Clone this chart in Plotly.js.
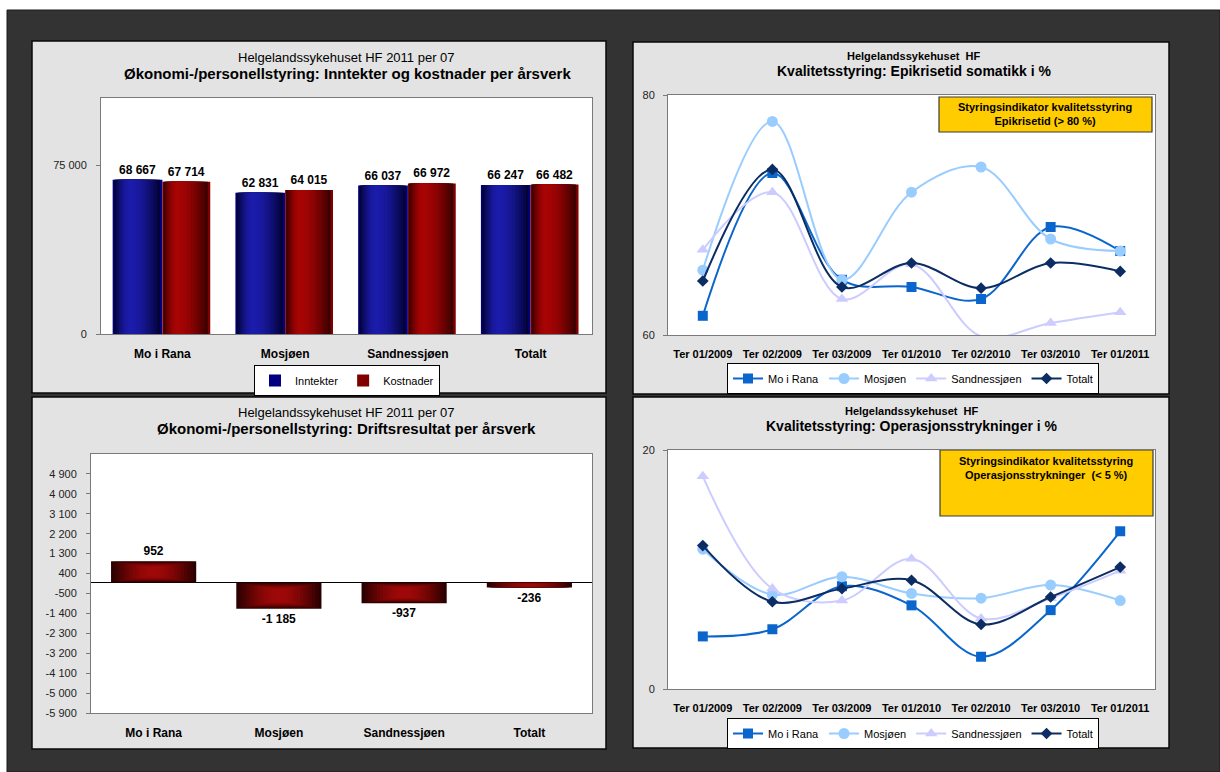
<!DOCTYPE html>
<html><head><meta charset="utf-8">
<script src="https://cdn.plot.ly/plotly-3.0.1.min.js"></script>
<style>html,body{margin:0;padding:0;background:#fff;}#chart{width:1220px;height:772px;}</style>
</head><body><div id="chart"></div>
<script>
// ---------- data ----------
const units = ['Mo i Rana', 'Mosjøen', 'Sandnessjøen', 'Totalt'];
const inntekter = [68667, 62831, 66037, 66247];
const kostnader = [67714, 64015, 66972, 66482];
const driftsresultat = [952, -1185, -937, -236];

const periods = ['Ter 01/2009', 'Ter 02/2009', 'Ter 03/2009', 'Ter 01/2010', 'Ter 02/2010', 'Ter 03/2010', 'Ter 01/2011'];
const epiMoiRana = [61.6, 73.5, 64.6, 64.0, 63.0, 69.0, 67.0];
const epiMosjoen = [65.4, 77.8, 64.6, 71.9, 74.0, 68.0, 67.0];
const epiSandnessjoen = [67.1, 71.9, 63.0, 65.9, 59.9, 61.0, 61.9];
const epiTotalt = [64.5, 73.8, 64.0, 66.0, 63.9, 66.0, 65.3];

const opMoiRana = [4.4, 5.0, 8.6, 7.0, 2.7, 6.6, 13.2];
const opMosjoen = [11.7, 7.9, 9.4, 8.0, 7.6, 8.7, 7.4];
const opSandnessjoen = [17.8, 8.4, 7.4, 10.9, 5.9, 7.6, 9.9];
const opTotalt = [12.0, 7.3, 8.4, 9.1, 5.4, 7.7, 10.2];

const incomeTicks = [0, 75000];
const resultTicks = [-5900, -5000, -4100, -3200, -2300, -1400, -500, 400, 1300, 2200, 3100, 4000, 4900];
const epiTicks = [60, 80];
const opTicks = [0, 20];

// ---------- helpers ----------
const W = 1220, H = 772;
const FONT = 'Liberation Sans, Arial, sans-serif';
const px = v => v / W;
const py = v => 1 - v / H;
function fmt(v) {
  const s = Math.abs(Math.round(v)).toString().replace(/\B(?=(\d{3})+(?!\d))/g, ' ');
  return (v < 0 ? '-' : '') + s;
}
function hex2rgb(h) { h = h.replace('#', ''); return [0, 2, 4].map(i => parseInt(h.substr(i, 2), 16)); }
function mix(a, b, t) {
  const A = hex2rgb(a), B = hex2rgb(b);
  return 'rgb(' + A.map((c, i) => Math.round(c + (B[i] - c) * t)).join(',') + ')';
}
// shaded bars built from layered bar traces
function shadedBars(opts) {
  const out = [];
  const n = opts.layers;
  for (let j = 0; j < n; j++) {
    const f = j / n;
    const t = Math.sin(f * Math.PI / 2);
    const vs = opts.vshrink || 0;
    const tr = {
      type: 'bar', xaxis: opts.xaxis, yaxis: opts.yaxis,
      x: opts.cats,
      y: opts.vals.map(v => v * (1 - vs * f)),
      base: opts.vals.map(v => v * vs * f / 2),
      offset: opts.off + opts.hpos * opts.w * f,
      width: opts.w * (1 - f),
      marker: { color: mix(opts.edge, opts.hi, t), line: { width: 0 } },
      hoverinfo: 'skip',
      showlegend: false
    };
    if (j === 0) {
      tr.name = opts.name;
      tr.showlegend = !!opts.legend;
      if (opts.legend) { tr.legend = opts.legend; tr.marker.color = opts.legendColor; }
      tr.text = opts.vals.map(fmt);
      tr.textposition = 'outside';
      tr.constraintext = 'none';
      tr.cliponaxis = false;
      tr.textfont = { family: FONT, size: 12, color: '#000', weight: 'bold' };
    }
    out.push(tr);
  }
  return out;
}
function lineTrace(xa, ya, y, name, color, symbol, size, legend) {
  return {
    type: 'scatter', mode: 'lines+markers', xaxis: xa, yaxis: ya,
    x: periods, y: y, name: name, legend: legend,
    line: { color: color, width: 2, shape: 'spline', smoothing: 1 },
    marker: { color: color, symbol: symbol, size: size },
    cliponaxis: false
  };
}

// ---------- traces ----------
let traces = [];
traces = traces.concat(shadedBars({ xaxis: 'x', yaxis: 'y', cats: units, vals: inntekter, off: -0.405, w: 0.405, hpos: 0.35,
  edge: '#00002c', hi: '#1c1cac', layers: 14, name: 'Inntekter', legend: 'legend', legendColor: '#000080' }));
traces = traces.concat(shadedBars({ xaxis: 'x', yaxis: 'y', cats: units, vals: kostnader, off: 0.0, w: 0.39, hpos: 0.3,
  edge: '#300000', hi: '#a80404', layers: 14, name: 'Kostnader', legend: 'legend', legendColor: '#800000' }));
traces = traces.concat(shadedBars({ xaxis: 'x2', yaxis: 'y2', cats: units, vals: driftsresultat, off: -0.34, w: 0.68, hpos: 0.5,
  edge: '#2a0000', hi: '#a00808', layers: 14, vshrink: 0.6, name: 'Driftsresultat' }));

traces.push(lineTrace('x3', 'y3', epiMoiRana, 'Mo i Rana', '#0a66cc', 'square', 10, 'legend2'));
traces.push(lineTrace('x3', 'y3', epiMosjoen, 'Mosjøen', '#99ccff', 'circle', 11, 'legend2'));
traces.push(lineTrace('x3', 'y3', epiSandnessjoen, 'Sandnessjøen', '#ccccff', 'triangle-up', 11, 'legend2'));
traces.push(lineTrace('x3', 'y3', epiTotalt, 'Totalt', '#0b2d63', 'diamond', 9, 'legend2'));

traces.push(lineTrace('x4', 'y4', opMoiRana, 'Mo i Rana', '#0a66cc', 'square', 10, 'legend3'));
traces.push(lineTrace('x4', 'y4', opMosjoen, 'Mosjøen', '#99ccff', 'circle', 11, 'legend3'));
traces.push(lineTrace('x4', 'y4', opSandnessjoen, 'Sandnessjøen', '#ccccff', 'triangle-up', 11, 'legend3'));
traces.push(lineTrace('x4', 'y4', opTotalt, 'Totalt', '#0b2d63', 'diamond', 9, 'legend3'));

// ---------- layout ----------
const axLine = '#7a7a7a';
function yAx(dom, range, ticks, anchor, standoff) {
  return {
    domain: [py(dom[1]), py(dom[0])], range: range, anchor: anchor,
    tickmode: 'array', tickvals: ticks, ticktext: ticks.map(fmt),
    ticks: 'outside', ticklen: 4, tickcolor: axLine, ticklabelstandoff: standoff,
    showline: true, linecolor: axLine, linewidth: 1, mirror: true,
    showgrid: false, zeroline: false, fixedrange: true, automargin: false,
    tickfont: { family: FONT, size: 11, color: '#222' }
  };
}
function xAx(dom, n, anchor, size, standoff) {
  return {
    domain: [px(dom[0]), px(dom[1])], range: [-0.5, n - 0.5], anchor: anchor, type: 'category',
    ticks: '', ticklabelstandoff: standoff,
    showline: true, linecolor: axLine, linewidth: 1, mirror: true,
    showgrid: false, zeroline: false, fixedrange: true, automargin: false,
    tickfont: { family: FONT, size: size, color: '#000', weight: 'bold' }
  };
}

const P1 = { x: [101, 592], y: [98, 334] };
const P2 = { x: [91, 592], y: [454, 713] };
const P3 = { x: [668, 1155], y: [95, 335] };
const P4 = { x: [668, 1155], y: [450, 689] };

function rect(x0, y0, x1, y1, fill, line, lw) {
  return { type: 'rect', xref: 'paper', yref: 'paper', layer: 'below',
    x0: px(x0), x1: px(x1), y0: py(y1), y1: py(y0), fillcolor: fill,
    line: { color: line || fill, width: lw === undefined ? 0 : lw } };
}
const shapes = [
  rect(7, 10, 1220, 772, '#333333', '#1a1a1a', 1),
  rect(32, 41, 606, 393, '#e3e3e3', '#0a0a0a', 1.5),
  rect(32, 397, 606, 749, '#e3e3e3', '#0a0a0a', 1.5),
  rect(633, 42, 1169, 394, '#e3e3e3', '#0a0a0a', 1.5),
  rect(633, 397, 1169, 748, '#e3e3e3', '#0a0a0a', 1.5),
  rect(P1.x[0], P1.y[0], P1.x[1], P1.y[1], '#ffffff'),
  rect(P2.x[0], P2.y[0], P2.x[1], P2.y[1], '#ffffff'),
  rect(P3.x[0], P3.y[0], P3.x[1], P3.y[1], '#ffffff'),
  rect(P4.x[0], P4.y[0], P4.x[1], P4.y[1], '#ffffff'),
  rect(939, 97, 1152, 132, '#ffcc00', '#3a3a3a', 1.2),
  rect(940, 450, 1153, 516, '#ffcc00', '#3a3a3a', 1.2)
];

function ann(x, y, text, size, bold) {
  return { xref: 'paper', yref: 'paper', x: px(x), y: py(y), xanchor: 'center', yanchor: 'middle',
    text: bold ? '<b>' + text + '</b>' : text, showarrow: false,
    font: { family: FONT, size: size, color: '#000' } };
}
const annotations = [
  ann(346, 57, 'Helgelandssykehuset HF 2011 per 07', 13, false),
  ann(347, 73, 'Økonomi-/personellstyring: Inntekter og kostnader per årsverk', 15, true),
  ann(346, 412, 'Helgelandssykehuset HF 2011 per 07', 13, false),
  ann(346, 428, 'Økonomi-/personellstyring: Driftsresultat per årsverk', 15, true),
  ann(914, 56, 'Helgelandssykehuset\u00a0\u00a0HF', 11, true),
  ann(914, 71, 'Kvalitetsstyring: Epikrisetid somatikk i %', 14, true),
  ann(912, 411, 'Helgelandssykehuset\u00a0\u00a0HF', 11, true),
  ann(912, 426, 'Kvalitetsstyring: Operasjonsstrykninger i %', 14, true),
  ann(1045, 114.5, 'Styringsindikator kvalitetsstyring<br>Epikrisetid (&gt; 80 %)', 11, true),
  ann(1046, 467.5, 'Styringsindikator kvalitetsstyring<br>Operasjonsstrykninger\u00a0\u00a0(&lt; 5 %)', 11, true)
];

function legendBox(xc, ytop) {
  return { x: px(xc), y: py(ytop), xanchor: 'center', yanchor: 'top', orientation: 'h',
    bgcolor: '#ffffff', bordercolor: '#000000', borderwidth: 1, itemwidth: 30,
    font: { family: FONT, size: 11, color: '#000' }, tracegroupgap: 0, traceorder: 'normal' };
}

const layout = {
  width: W, height: H, autosize: false,
  margin: { l: 0, r: 0, t: 0, b: 0, pad: 0 },
  paper_bgcolor: '#ffffff', plot_bgcolor: 'rgba(0,0,0,0)',
  barmode: 'overlay',
  font: { family: FONT, size: 11, color: '#000' },
  xaxis: xAx(P1.x, 4, 'y', 12, 9),
  yaxis: yAx(P1.y, [0, 105000], incomeTicks, 'x', 7),
  xaxis2: xAx(P2.x, 4, 'y2', 12, 9),
  yaxis2: Object.assign(yAx(P2.y, [-5900, 5800], resultTicks, 'x2', 7), { zeroline: true, zerolinecolor: '#000', zerolinewidth: 1 }),
  xaxis3: xAx(P3.x, 7, 'y3', 11, 9),
  yaxis3: yAx(P3.y, [60, 80], epiTicks, 'x3', 6),
  xaxis4: xAx(P4.x, 7, 'y4', 11, 9),
  yaxis4: yAx(P4.y, [0, 20], opTicks, 'x4', 6),
  legend: legendBox(347, 365),
  legend2: legendBox(913, 363),
  legend3: legendBox(913, 718),
  shapes: shapes,
  annotations: annotations,
  showlegend: true
};

Plotly.newPlot('chart', traces, layout, { staticPlot: true, displayModeBar: false });
</script>
</body></html>
